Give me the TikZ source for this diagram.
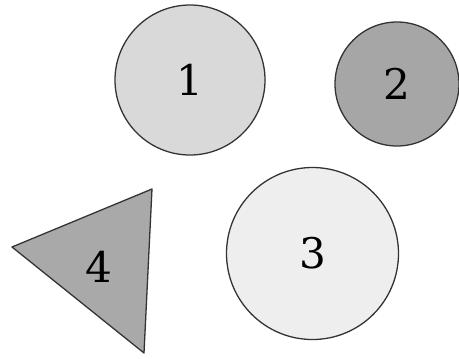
\documentclass[tikz,border=0pt]{standalone}
\usepackage{tikz}
\usepackage{fontspec}
\setmainfont{DejaVu Serif}
\usetikzlibrary{positioning}
\definecolor{ShadeLight}{HTML}{D9D9D9}
\definecolor{ShadeDark}{HTML}{A6A6A6}
\definecolor{ShadePale}{HTML}{EEEEEE}
\definecolor{ShadeTri}{HTML}{A9A9A9}
\tikzset{
    % Shape styles
    disc/.style={
        circle,
        draw=black!80,
        line width=1.1pt,
        inner sep=0pt,
        font=\fontsize{36}{36}\selectfont
    },
    wedge/.style={
        draw=black!80,
        fill=ShadeTri,
        line width=1.1pt,
        line join=round
    },
    numlabel/.style={
        font=\fontsize{36}{36}\selectfont
    }
}
\begin{document}
\begin{tikzpicture}[x=0.03cm, y=-0.03cm]
    \useasboundingbox (0,0) rectangle (459,358);

    % Circles
    \node[disc, fill=ShadeLight, minimum size=150*0.03cm] (c1) at (190,80) {1};
    \node[disc, fill=ShadeDark, minimum size=124*0.03cm] (c2) at (397,84) {2};
    \node[disc, fill=ShadePale, minimum size=172*0.03cm] (c3) at (312.5,253.5) {3};

    % Triangle
    \coordinate (t1) at (12,247);
    \coordinate (t2) at (152,189);
    \coordinate (t3) at (144,353);
    \draw[wedge] (t1) -- (t2) -- (t3) -- cycle;
    \node[numlabel] (t4) at (99,267) {4};
\end{tikzpicture}
\end{document}
